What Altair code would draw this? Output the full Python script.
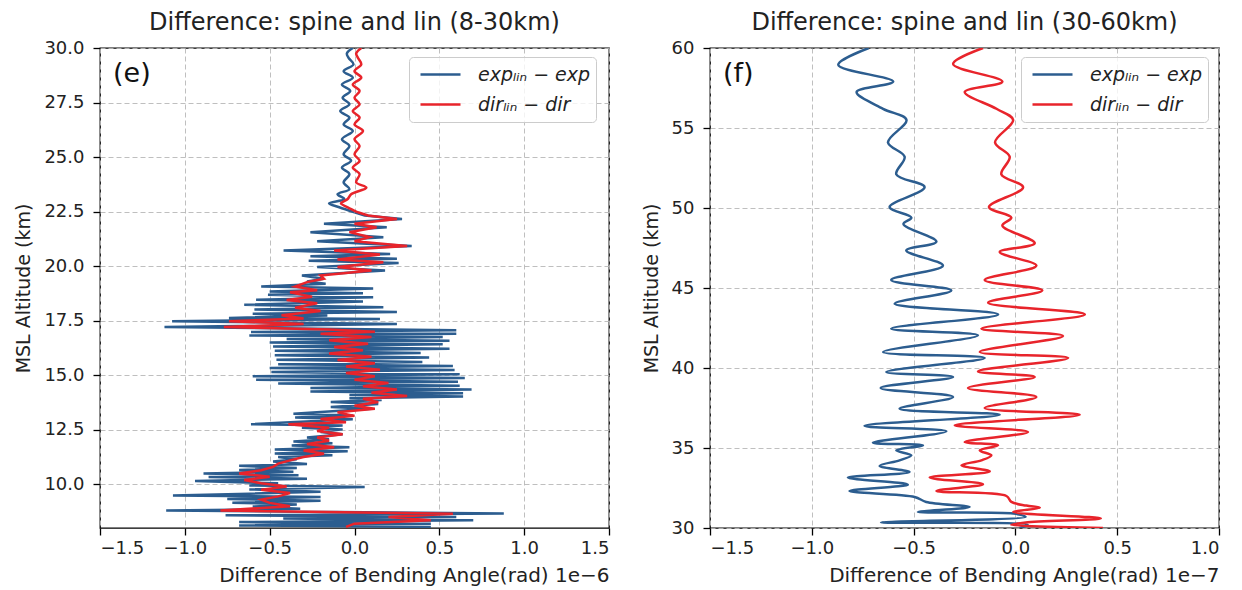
import altair as alt
import pandas as pd

# ---------------- data ----------------
# Left panel (8-30 km), difference in units of 1e-6 rad
lb_alt = [30.0, 29.75, 29.55, 29.25, 28.94, 28.64, 28.33, 28.03, 27.72, 27.42, 27.11, 26.81,
          26.5, 26.2, 25.82, 25.51, 25.13, 24.83, 24.52, 24.22, 23.84, 23.53, 23.3, 23.08,
          22.88, 22.7, 22.47, 22.32, 22.16, 21.94, 21.78, 21.56, 21.33, 21.14, 20.92, 20.72,
          20.56, 20.45, 20.34, 20.25, 20.15, 19.96, 19.8, 19.57, 19.42, 19.3, 19.2, 19.07,
          18.98, 18.84, 18.76, 18.69, 18.58, 18.46, 18.38, 18.23, 18.12, 18.02, 17.9, 17.82,
          17.74, 17.63, 17.58, 17.48, 17.35, 17.21, 17.06, 16.98, 16.9, 16.82, 16.75, 16.66,
          16.58, 16.5, 16.42, 16.32, 16.22, 16.12, 16.02, 15.92, 15.81, 15.71, 15.61, 15.5,
          15.42, 15.33, 15.24, 15.15, 15.05, 14.96, 14.88, 14.8, 14.7, 14.62, 14.52, 14.42,
          14.35, 14.26, 14.18, 14.1, 14.03, 13.95, 13.87, 13.77, 13.68, 13.55, 13.47, 13.24,
          13.16, 13.06, 12.98, 12.76, 12.7, 12.6, 12.52, 12.4, 12.3, 12.15, 12.07, 11.97,
          11.88, 11.78, 11.7, 11.6, 11.52, 11.42, 11.34, 11.25, 11.15, 11.05, 10.93, 10.85,
          10.75, 10.66, 10.58, 10.5, 10.42, 10.34, 10.26, 10.15, 10.05, 9.95, 9.88, 9.77,
          9.66, 9.57, 9.49, 9.42, 9.33, 9.25, 9.16, 9.08, 8.98, 8.88, 8.8, 8.66, 8.58, 8.5,
          8.43, 8.35, 8.27, 8.2, 8.12, 8.05]
lb_val = [-0.01, -0.045, -0.035, -0.006, -0.064, -0.01, -0.074, -0.025, -0.07, -0.03, -0.084, -0.03,
          -0.064, -0.01, -0.074, -0.03, -0.064, -0.02, -0.074, -0.03, -0.064, -0.03, -0.1, -0.06,
          -0.15, -0.09, 0.0, 0.06, 0.28, -0.18, 0.19, -0.26, 0.17, -0.22, 0.337, -0.418,
          0.21, -0.26, 0.25, -0.27, 0.26, -0.22, 0.18, -0.31, -0.18, -0.28, -0.17, -0.55,
          0.11, -0.5, 0.05, -0.51, 0.11, -0.58, 0.05, -0.65, 0.17, -0.59, 0.25, -0.6,
          -0.16, -0.74, 0.15, -1.075, 0.25, -1.12, 0.6, -0.61, 0.6, -0.62, 0.52, -0.4,
          0.56, -0.5, 0.52, -0.48, 0.56, -0.47, 0.39, -0.47, 0.44, -0.46, 0.4, -0.45,
          0.58, -0.5, 0.59, -0.49, 0.62, -0.6, 0.65, -0.58, 0.61, -0.45, 0.62, -0.26,
          0.69, -0.26, 0.64, -0.03, 0.64, -0.03, 0.16, -0.14, 0.14, -0.14, 0.1, -0.36,
          -0.01, -0.35, -0.01, -0.61, -0.07, -0.31, -0.07, -0.2, -0.07, -0.28, -0.15, -0.36,
          -0.13, -0.37, -0.03, -0.47, -0.04, -0.47, -0.13, -0.45, -0.34, -0.48, -0.28, -0.68,
          -0.34, -0.68, -0.36, -0.89, -0.33, -0.86, -0.28, -0.94, -0.45, -0.62, 0.06, -0.62,
          -0.2, -0.62, -1.07, -0.2, -0.75, -0.2, -0.72, -0.34, -0.6, -0.32, -1.11, 0.88, -0.76, 0.6,
          -0.42, 0.7, -0.68, 0.45, -0.68, 0.45]

lr_alt = [30.0, 29.75, 29.55, 29.25, 28.94, 28.64, 28.33, 28.03, 27.72, 27.42, 27.11, 26.81,
          26.5, 26.2, 25.82, 25.51, 25.13, 24.83, 24.52, 24.22, 23.84, 23.6, 23.3, 23.08,
          22.88, 22.7, 22.47, 22.32, 22.16, 21.94, 21.78, 21.56, 21.33, 21.14, 20.92, 20.72,
          20.53, 20.31, 20.18, 19.96, 19.8, 19.57, 19.42, 19.27, 19.07, 18.9, 18.8, 18.6,
          18.45, 18.3, 18.1, 17.95, 17.75, 17.6, 17.48, 17.35, 17.21, 17.1, 17.0, 16.9,
          16.75, 16.6, 16.45, 16.3, 16.15, 16.0, 15.85, 15.7, 15.55, 15.4, 15.25, 15.1,
          14.95, 14.8, 14.65, 14.5, 14.35, 14.2, 14.05, 13.92, 13.77, 13.6, 13.47, 13.3,
          13.14, 13.0, 12.85, 12.75, 12.6, 12.45, 12.3, 12.15, 12.0, 11.85, 11.7, 11.55,
          11.4, 11.25, 11.1, 10.95, 10.8, 10.65, 10.5, 10.35, 10.2, 10.05, 9.9, 9.75,
          9.6, 9.45, 9.3, 9.15, 9.0, 8.8, 8.65, 8.5, 8.35, 8.2, 8.05]
lr_val = [0.04, 0.01, 0.02, 0.04, 0.0, 0.04, -0.01, 0.03, 0.0, 0.03, -0.01, 0.03,
          0.0, 0.05, 0.0, 0.03, 0.0, 0.03, -0.01, 0.03, 0.01, 0.07, -0.02, -0.04,
          -0.08, -0.04, 0.02, 0.08, 0.25, 0.0, 0.13, -0.03, 0.09, 0.0, 0.31, -0.12,
          0.15, -0.1, 0.17, -0.1, 0.1, -0.2, -0.18, -0.28, -0.35, -0.22, -0.38, -0.25,
          -0.4, -0.22, -0.35, -0.2, -0.43, -0.3, -0.74, -0.3, -0.77, -0.15, 0.12, -0.2,
          0.1, -0.15, 0.08, -0.12, 0.05, -0.15, 0.1, -0.1, 0.12, -0.05, 0.15, -0.05,
          0.12, 0.0, 0.2, 0.05, 0.25, 0.1, 0.31, 0.05, 0.14, 0.0, 0.12, -0.1,
          0.0, -0.2, -0.05, -0.39, -0.15, -0.22, -0.07, -0.22, -0.15, -0.28, -0.12, -0.3,
          -0.18, -0.3, -0.38, -0.45, -0.48, -0.55, -0.68, -0.5, -0.65, -0.55, -0.4, -0.55,
          -0.38, -0.45, -0.55, -0.5, -0.38, -0.79, 0.58, 0.2, 0.45, 0.0, -0.05]

# Right panel (30-60 km), difference in units of 1e-7 rad
rb_alt = [60.0, 58.95, 57.9, 57.25, 56.2, 55.5, 54.1, 53.2, 52.1, 51.3, 50.06, 49.4, 49.0,
          47.9, 47.35, 46.4, 45.5, 44.85, 44.02, 43.35, 42.46, 42.04, 41.0, 40.63, 39.75,
          39.44, 38.75, 38.19, 37.46, 37.08, 36.38, 36.04, 35.33, 35.17, 34.85, 34.54, 34.23,
          33.88, 33.5, 33.15, 32.71, 32.31, 31.94, 31.63, 31.31, 31.0, 30.9, 30.7, 30.35,
          30.2, 30.0]
rb_val = [-0.72, -0.87, -0.60, -0.78, -0.65, -0.535, -0.626, -0.544, -0.585, -0.446, -0.618, -0.511, -0.55,
          -0.388, -0.536, -0.356, -0.61, -0.315, -0.593, -0.085, -0.61, -0.184, -0.65, -0.151, -0.634,
          -0.306, -0.662, -0.306, -0.569, -0.077, -0.741, -0.339, -0.70, -0.454, -0.585, -0.511, -0.569,
          -0.667, -0.52, -0.823, -0.528, -0.815, -0.495, -0.438, -0.225, -0.479, -0.01, 0.05, -0.66,
          0.06, 0.02]

rr_alt = [60.0, 59.0, 57.9, 57.25, 56.2, 55.5, 54.1, 53.2, 52.1, 51.3, 50.06, 49.4, 48.9,
          47.8, 47.25, 46.4, 45.5, 44.85, 44.08, 43.35, 42.46, 42.0, 41.0, 40.63, 39.79,
          39.44, 38.75, 38.19, 37.5, 37.08, 36.42, 36.0, 35.375, 35.17, 34.85, 34.54, 34.23,
          33.92, 33.54, 33.15, 32.73, 32.31, 32.0, 31.63, 31.4, 31.27, 31.0, 30.6, 30.35,
          30.2, 30.0]
rr_val = [-0.159, -0.306, -0.064, -0.249, -0.093, -0.011, -0.10, -0.028, -0.069, 0.038, -0.13, -0.02, -0.064,
          0.095, -0.077, 0.103, -0.151, 0.132, -0.134, 0.341, -0.167, 0.234, -0.175, 0.259, -0.184,
          0.095, -0.233, 0.103, -0.151, 0.316, -0.298, 0.062, -0.249, -0.085, -0.175, -0.118, -0.167,
          -0.265, -0.126, -0.421, -0.159, -0.388, -0.044, -0.02, 0.054, 0.12, -0.011, 0.42, 0.05,
          -0.02, 0.43]

LAB_EXP = "expₗᵢₙ − exp"
LAB_DIR = "dirₗᵢₙ − dir"
BLUE = "#2c5d8f"
RED = "#e8242b"
FONT = "DejaVu Sans"


def panel(b_alt, b_val, r_alt, r_val, xdom, xticks, ydom, yticks, yfmt, title, tag,
          xtitle, interp, legx, smooth_above=None):
    db = pd.DataFrame({"alt": b_alt, "val": b_val, "series": LAB_EXP})
    dr = pd.DataFrame({"alt": r_alt, "val": r_val, "series": LAB_DIR})
    color = alt.Color(
        "series:N",
        scale=alt.Scale(domain=[LAB_EXP, LAB_DIR], range=[BLUE, RED]),
        legend=alt.Legend(
            title=None, orient="none", legendX=legx, legendY=9,
            symbolType="stroke", symbolSize=1600, symbolStrokeWidth=2.5,
            symbolOffset=5, clipHeight=25, rowPadding=5,
            labelFontSize=19, labelFontStyle="italic", labelFont=FONT, labelColor="#222",
            labelOffset=16, fillColor="rgba(255,255,255,0.8)", strokeColor="#cccccc",
            cornerRadius=4, padding=5,
        ),
    )
    x = alt.X("val:Q", scale=alt.Scale(domain=xdom, nice=False, zero=False),
              axis=alt.Axis(values=xticks, format=".1f", title=xtitle, titleAnchor="end"))
    y = alt.Y("alt:Q", scale=alt.Scale(domain=ydom, nice=False, zero=False),
              axis=alt.Axis(values=yticks, format=yfmt, title="MSL Altitude (km)"))
    order = alt.Order("alt:Q", sort="descending")
    layers = []
    for d in (db, dr):
        if smooth_above is None:
            parts = [(d, interp)]
        else:
            parts = [(d[d["alt"] <= smooth_above], interp),
                     (d[d["alt"] >= smooth_above], "catmull-rom")]
        for part, ip in parts:
            layers.append(
                alt.Chart(part).mark_line(strokeWidth=2.5, interpolate=ip, clip=True).encode(
                    x=x, y=y, color=color, order=order))
    tg = alt.Chart(pd.DataFrame({"t": [tag]})).mark_text(
        align="left", baseline="middle", fontSize=27, font=FONT, color="#111"
    ).encode(text="t:N", x=alt.value(13), y=alt.value(26))
    layers.append(tg)
    return alt.layer(*layers).properties(
        width=509, height=480,
        title=alt.TitleParams(title, anchor="middle"),
    )


left = panel(lb_alt, lb_val, lr_alt, lr_val, [-1.5, 1.5],
             [-1.5, -1.0, -0.5, 0.0, 0.5, 1.0, 1.5], [8, 30],
             [10.0, 12.5, 15.0, 17.5, 20.0, 22.5, 25.0, 27.5, 30.0], ".1f",
             "Difference: spine and lin (8-30km)", "(e)",
             "Difference of Bending Angle(rad)  1e−6", "linear", 309, smooth_above=22.47)
right = panel(rb_alt, rb_val, rr_alt, rr_val, [-1.5, 1.0],
              [-1.5, -1.0, -0.5, 0.0, 0.5, 1.0], [30, 60],
              [30, 35, 40, 45, 50, 55, 60], "d",
              "Difference: spine and lin (30-60km)", "(f)",
              "Difference of Bending Angle(rad)  1e−7", "catmull-rom", 311)

chart = alt.hconcat(left, right, spacing=30).resolve_scale(
    color="independent").resolve_legend(color="independent").properties(
    padding={"left": 6, "top": 2, "right": 5, "bottom": 0}
).configure_view(
    stroke="black", strokeWidth=1.3
).configure_axis(
    grid=True, gridColor="#b8b8b8", gridDash=[5, 3], gridWidth=0.9,
    domain=False, tickColor="black", tickSize=7, tickWidth=1.3,
    labelFont=FONT, labelFontSize=18, labelColor="#222",
    titleFont=FONT, titleFontSize=19, titleFontWeight="normal", titleColor="#222",
).configure_axisX(
    labelPadding=4, titlePadding=8, titleFontSize=20
).configure_axisY(
    labelPadding=9, titlePadding=10
).configure_title(
    font=FONT, fontSize=24, fontWeight="normal", color="#222", offset=4
)

chart.save("out.html", embed_options={"renderer": "svg", "actions": False})
